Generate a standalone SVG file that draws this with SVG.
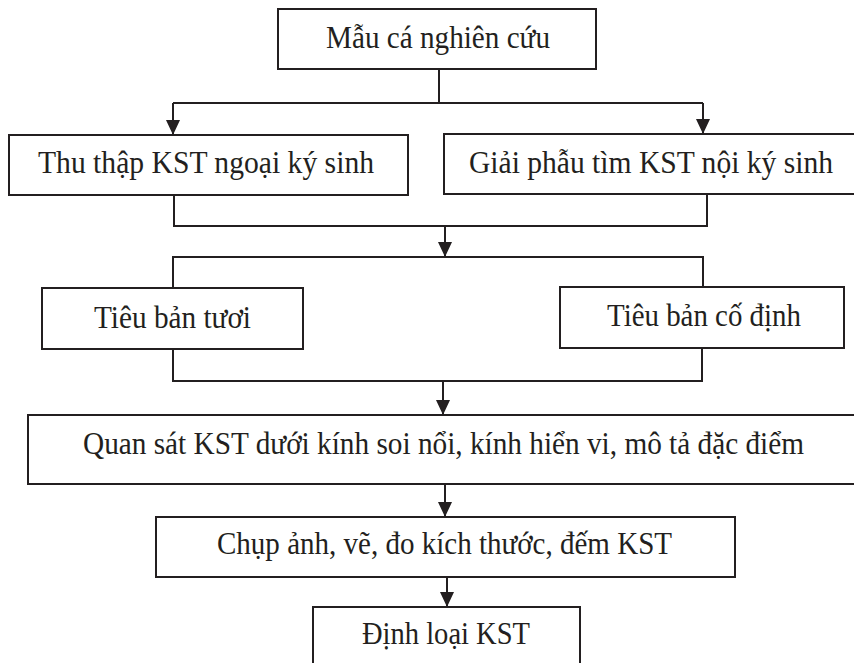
<svg xmlns="http://www.w3.org/2000/svg" width="854" height="663" viewBox="0 0 854 663">
<defs>
<style>
.box{fill:#fff;stroke:#231f20;stroke-width:2}
.lbl{font-family:'Liberation Serif','Times New Roman','DejaVu Serif',serif;font-size:32px;fill:#231f20;text-anchor:middle}
.con{fill:none;stroke:#231f20;stroke-width:2}
</style>
<marker id="arr" viewBox="0 0 15 14" refX="15" refY="7" markerWidth="15" markerHeight="14" markerUnits="userSpaceOnUse" orient="auto">
<path d="M0,0 L15,7 L0,14 z" fill="#231f20"/>
</marker>
</defs>
<rect width="854" height="663" fill="#fff"/>
<g id="connectors">
<path class="con" d="M439 69 V103 M173 103 H703"/>
<path class="con" d="M173 103 V135" marker-end="url(#arr)"/>
<path class="con" d="M703 103 V134" marker-end="url(#arr)"/>
<path class="con" d="M174 195 V226 H707 V194"/>
<path class="con" d="M445 226 V257" marker-end="url(#arr)"/>
<path class="con" d="M173 288 V257 H703 V287"/>
<path class="con" d="M173 349 V381 H702 V348"/>
<path class="con" d="M443 381 V415" marker-end="url(#arr)"/>
<path class="con" d="M445 484 V517" marker-end="url(#arr)"/>
<path class="con" d="M447 577 V607" marker-end="url(#arr)"/>
</g>
<g id="n1"><rect class="box" x="278" y="9" width="318" height="60"/><text class="lbl" x="438" y="48" textLength="224" lengthAdjust="spacingAndGlyphs">Mẫu cá nghiên cứu</text></g>
<g id="n2"><rect class="box" x="9" y="135" width="399" height="60"/><text class="lbl" x="206" y="173" textLength="336" lengthAdjust="spacingAndGlyphs">Thu thập KST ngoại ký sinh</text></g>
<g id="n3"><rect class="box" x="444" y="134" width="411" height="60"/><text class="lbl" x="651" y="173" textLength="364" lengthAdjust="spacingAndGlyphs">Giải phẫu tìm KST nội ký sinh</text></g>
<g id="n4"><rect class="box" x="42" y="288" width="261" height="61"/><text class="lbl" x="172.5" y="328" textLength="157" lengthAdjust="spacingAndGlyphs">Tiêu bản tươi</text></g>
<g id="n5"><rect class="box" x="560" y="287" width="284" height="61"/><text class="lbl" x="704" y="326" textLength="194" lengthAdjust="spacingAndGlyphs">Tiêu bản cố định</text></g>
<g id="n6"><rect class="box" x="28" y="415" width="827" height="69"/><text class="lbl" x="443.5" y="454" textLength="721" lengthAdjust="spacingAndGlyphs">Quan sát KST dưới kính soi nổi, kính hiển vi, mô tả đặc điểm</text></g>
<g id="n7"><rect class="box" x="156" y="517" width="579" height="60"/><text class="lbl" x="444.5" y="554" textLength="455" lengthAdjust="spacingAndGlyphs">Chụp ảnh, vẽ, đo kích thước, đếm KST</text></g>
<g id="n8"><rect class="box" x="313" y="607" width="267" height="57"/><text class="lbl" x="446" y="644" textLength="168" lengthAdjust="spacingAndGlyphs">Định loại KST</text></g>
</svg>
